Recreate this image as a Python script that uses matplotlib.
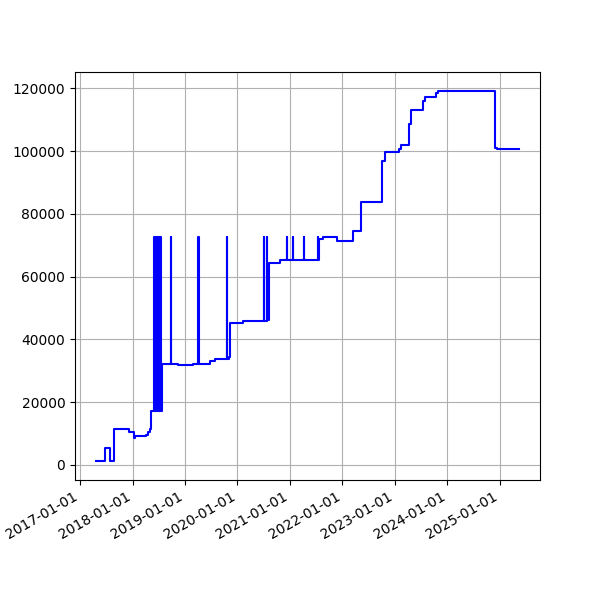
import matplotlib
matplotlib.use("Agg")
import matplotlib.pyplot as plt
import matplotlib.dates as mdates
import pandas as pd

dates = [
    "2017-04-23", "2017-06-25", "2017-07-31", "2017-08-26", "2017-12-05",
    "2018-01-11", "2018-01-19", "2018-04-05", "2018-04-20", "2018-05-05",
    "2018-05-12",
    # dense spike block
    "2018-05-30", "2018-06-01", "2018-06-03", "2018-06-05", "2018-06-07",
    "2018-06-09", "2018-06-11", "2018-06-13", "2018-06-15", "2018-06-17",
    "2018-06-19", "2018-06-21", "2018-06-23", "2018-06-25", "2018-06-27",
    "2018-06-29", "2018-07-01", "2018-07-03", "2018-07-05", "2018-07-07",
    "2018-07-09", "2018-07-11", "2018-07-13", "2018-07-15", "2018-07-17",
    "2018-07-19", "2018-07-21",
    "2018-07-27",
    "2018-09-27", "2018-09-29",
    "2018-11-13", "2019-02-28",
    "2019-04-05", "2019-04-07",
    "2019-06-24", "2019-07-31",
    "2019-10-19", "2019-10-21", "2019-11-03", "2019-11-10",
    "2020-02-10",
    "2020-07-01", "2020-07-03",
    "2020-07-23", "2020-07-28", "2020-08-07",
    "2020-10-23",
    "2020-12-09", "2020-12-11",
    "2021-01-19", "2021-01-21",
    "2021-04-09", "2021-04-11",
    "2021-07-13", "2021-07-15", "2021-07-20",
    "2021-08-18", "2021-11-24", "2022-03-14", "2022-05-12",
    "2022-10-05", "2022-10-23", "2023-01-26", "2023-02-10",
    "2023-04-09", "2023-04-23", "2023-07-13", "2023-07-27",
    "2023-10-16", "2023-10-30", "2024-04-16", "2024-11-28",
    "2024-12-10", "2025-05-12",
]
values = [
    1100, 5300, 1100, 11300, 10400,
    8700, 9300, 9600, 10400, 11600,
    17300,
    72600, 17300, 72600, 17300, 72600,
    17300, 72600, 17300, 72600, 17300,
    72600, 17300, 72600, 17300, 72600,
    17300, 72600, 17300, 72600, 17300,
    72600, 17300, 72600, 17300, 72600,
    17300, 17300,
    32300,
    72600, 32300,
    31800, 32000,
    72600, 32200,
    33200, 33700,
    72600, 33700, 34300, 45100,
    45800,
    72600, 45800,
    72600, 46200, 64500,
    65200,
    72600, 65200,
    72600, 65200,
    72600, 65200,
    72600, 65200, 72000,
    72600, 71500, 74400, 83800,
    96700, 99600, 100700, 101800,
    108700, 113100, 116000, 117300,
    118600, 119100, 119300, 101100,
    100800, 100800,
]

x = pd.to_datetime(dates)

fig, ax = plt.subplots(figsize=(6, 6), dpi=100)
ax.plot(x, values, color="blue", drawstyle="steps-post", linewidth=1.5)
ax.grid(True)
ax.xaxis.set_major_locator(mdates.YearLocator())
ax.xaxis.set_major_formatter(mdates.DateFormatter("%Y-%m-%d"))
fig.autofmt_xdate()
fig.savefig("out.png", dpi=100)
